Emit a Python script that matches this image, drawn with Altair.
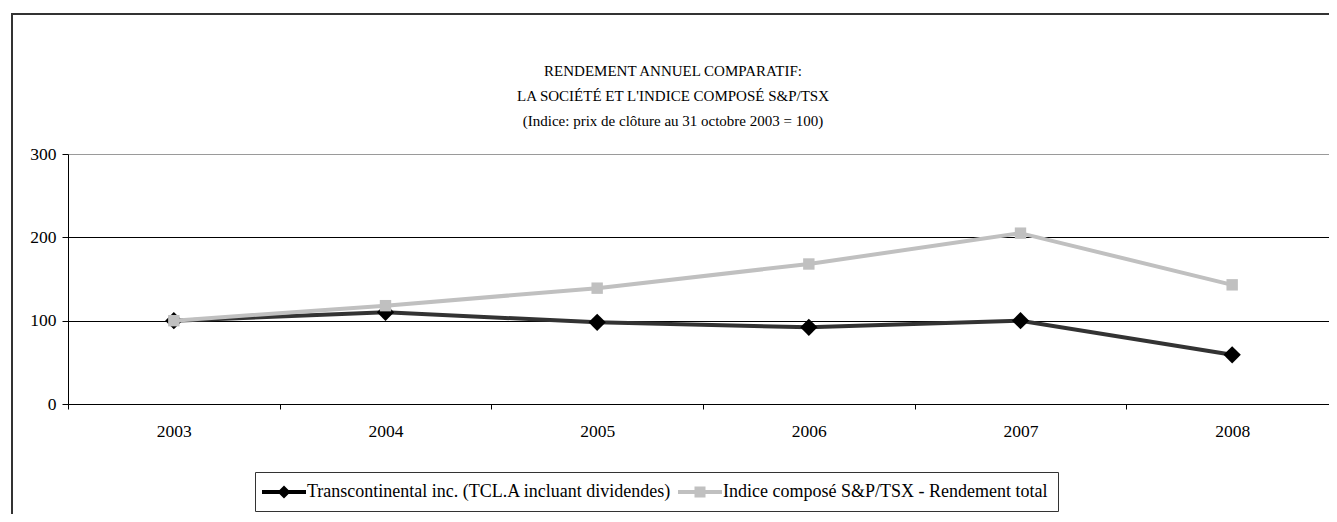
import altair as alt
import pandas as pd

years = ["2003", "2004", "2005", "2006", "2007", "2008"]
tcl_values = [100, 110, 98, 92, 100, 59]
tsx_values = [100, 118, 139, 168, 205, 143]
series_names = [
    "Transcontinental inc. (TCL.A incluant dividendes)",
    "Indice composé S&P/TSX - Rendement total",
]
line_colors = ["#333333", "#c0c0c0"]
marker_colors = ["#000000", "#c0c0c0"]
title_lines = [
    "RENDEMENT ANNUEL COMPARATIF:",
    "LA SOCIÉTÉ ET L'INDICE COMPOSÉ S&P/TSX",
    "(Indice: prix de clôture au 31 octobre 2003 = 100)",
]
y_ticks = [0, 100, 200, 300]

rows = []
for name, vals in zip(series_names, [tcl_values, tsx_values]):
    for yr, v in zip(years, vals):
        rows.append({"annee": yr, "serie": name, "valeur": v})
df = pd.DataFrame(rows)

FONT = "Liberation Serif, Times New Roman, serif"
W, H = 1261, 250

x_enc = alt.X(
    "annee:N",
    sort=years,
    scale=alt.Scale(type="band", paddingInner=0, paddingOuter=0, range=[0, 1270]),
    axis=alt.Axis(
        title=None, labelAngle=0, labelFont=FONT, labelFontSize=17.5, labelColor="black",
        tickBand="extent", tickSize=5, tickColor="black", domainColor="black",
        labelPadding=13, grid=False,
    ),
)
y_enc = alt.Y(
    "valeur:Q",
    scale=alt.Scale(domain=[0, 300]),
    axis=alt.Axis(
        title=None, values=y_ticks, labelFont=FONT, labelFontSize=17.5, labelColor="black",
        tickSize=6, tickColor="black", domainColor="black", labelPadding=6,
        grid=True,
        gridColor=alt.condition("datum.value == 300", alt.value("#9a9a9a"), alt.value("black")),
    ),
)

base = alt.Chart(df).encode(x=x_enc, y=y_enc)

line_tcl = base.transform_filter(alt.datum.serie == series_names[0]).mark_line(
    color=line_colors[0], strokeWidth=4)
pts_tcl = base.transform_filter(alt.datum.serie == series_names[0]).mark_point(
    filled=True, shape="diamond", size=300, color=marker_colors[0], opacity=1)
line_tsx = base.transform_filter(alt.datum.serie == series_names[1]).mark_line(
    color=line_colors[1], strokeWidth=4)
pts_tsx = base.transform_filter(alt.datum.serie == series_names[1]).mark_point(
    filled=True, shape="square", size=130, color=marker_colors[1], opacity=1)

legend_paths = [
    "M-2.2,-0.2H2.2V0.2H-2.2Z M0,-0.65L0.65,0L0,0.65L-0.65,0Z",
    "M-2.2,-0.2H2.2V0.2H-2.2Z M-0.55,-0.55H0.55V0.55H-0.55Z",
]
leg = alt.Legend(
    title=None, orient="none", legendX=187, legendY=318, direction="horizontal",
    labelFont=FONT, labelFontSize=18, labelColor="black", labelLimit=1000,
    symbolSize=400, symbolOpacity=1, symbolStrokeWidth=0,
    symbolOffset=9, labelOffset=13, columnPadding=6,
    strokeColor="#333333", fillColor="white", padding=10,
)
legend_layer = alt.Chart(df).mark_point(filled=True, opacity=0).encode(
    x=x_enc, y=y_enc,
    color=alt.Color("serie:N", scale=alt.Scale(domain=series_names, range=[marker_colors[0], marker_colors[1]]), legend=leg),
    shape=alt.Shape("serie:N", scale=alt.Scale(domain=series_names, range=legend_paths), legend=leg),
)

frame = alt.Chart(pd.DataFrame({"k": [0]})).mark_rect(
    fill="white", fillOpacity=0, stroke="#333333", strokeWidth=2
).encode(x=alt.value(-56), x2=alt.value(1400), y=alt.value(-140), y2=alt.value(420))

title_text = alt.Chart(pd.DataFrame({"k": [0]})).mark_text(
    font=FONT, fontSize=15, color="black", align="center", baseline="middle", lineHeight=25,
).encode(x=alt.value(605), y=alt.value(-83), text=alt.value(title_lines))

chart = alt.layer(frame, title_text, line_tcl, pts_tcl, line_tsx, pts_tsx, legend_layer).properties(
    width=W, height=H,
    autosize="none",
    padding={"left": 60, "top": 146, "right": 0, "bottom": 110},
).configure_view(stroke=None)

chart.save("out.html", embed_options={"renderer": "svg", "actions": False})
